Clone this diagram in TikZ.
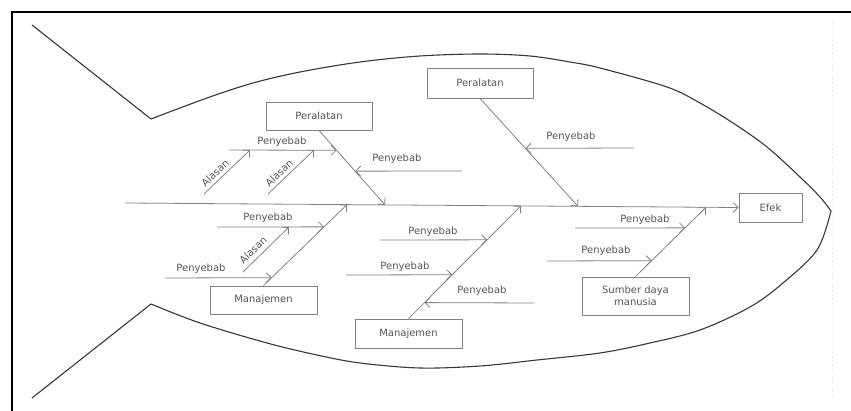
\documentclass[tikz,border=0pt]{standalone}
\usepackage{fontspec}
\setmainfont{DejaVu Sans}
\usetikzlibrary{arrows.meta,calc}
\definecolor{ln}{RGB}{130,130,130}
\definecolor{tx}{RGB}{85,85,85}
\definecolor{fishc}{RGB}{55,55,55}
\begin{document}
\begin{tikzpicture}[x=1pt,y=-1pt,
  box/.style={draw=ln, line width=0.8pt, minimum width=106pt, minimum height=28pt, inner sep=0pt, font=\fontsize{10}{12.5}\selectfont, text=tx, fill=white},
  lbl/.style={font=\fontsize{10}{12}\selectfont, text=tx, inner sep=1pt},
  bone/.style={draw=ln, line width=0.8pt, -{Straight Barb[length=5pt,width=10pt]}}]
\useasboundingbox (0,0) rectangle (851,411);
% frame
\draw[line width=2pt] (12,411) -- (12,12) -- (851,12);
\draw[black!10, dotted, line width=0.6pt] (832,22) -- (832,397);
% fish outline
\draw[fishc, line width=1.1pt, line join=round]
  (32,25) -- (151,119)
  -- plot[smooth, tension=0.55] coordinates {(151,119) (207,98) (253,83) (300,72) (360,62) (420,56) (480,54) (530,56) (570,62) (600,68) (667,87) (700,103) (733,123) (767,147) (800,177) (820,197) (831,211)}
  -- plot[smooth, tension=0.55] coordinates {(831,211) (817,250) (783,283) (750,307) (700,330) (650,343) (600,353) (537,360) (480,366) (420,368) (360,363) (317,355) (267,343) (200,323) (151,304)}
  -- (32,398);
% boxes
\node[box] (per1) at (319,116) {Peralatan};
\node[box, minimum height=30pt] (per2) at (480,83) {Peralatan};
\node[box, minimum width=107pt] (man1) at (263.5,300) {Manajemen};
\node[box, minimum width=107pt, minimum height=29pt] (man2) at (408.5,333.5) {Manajemen};
\node[box, minimum width=107pt, minimum height=38pt, align=center] (sdm) at (635.5,296) {Sumber daya\\manusia};
\node[box, minimum width=63pt, minimum height=29pt] (efek) at (770.5,207.5) {Efek};
% spine
\coordinate (tail) at (125,203);
\draw[bone] (tail) -- (efek.west);
\coordinate (j1) at (385,204.9);
\coordinate (j2) at (578,206.3);
\coordinate (jm1) at (347,204.6);
\coordinate (jm2) at (521,205.9);
\coordinate (js) at (706,207.3);
% main bones
\draw[bone] (per1.south) -- (j1);
\draw[bone] (per2.south) -- (j2);
\draw[bone] (man1.north) -- (jm1);
\draw[bone] (man2.north) -- (jm2);
\draw[bone] (sdm.north) -- (js);
% points on bones
\coordinate (b1a) at ($(per1.south)!0.267!(j1)$);
\coordinate (b1b) at ($(per1.south)!0.547!(j1)$);
\coordinate (b2a) at ($(per2.south)!0.463!(j2)$);
\coordinate (b3a) at ($(man1.north)!0.725!(jm1)$);
\coordinate (b3b) at ($(man1.north)!0.098!(jm1)$);
\coordinate (b4a) at ($(man2.north)!0.699!(jm2)$);
\coordinate (b4b) at ($(man2.north)!0.389!(jm2)$);
\coordinate (b4c) at ($(man2.north)!0.142!(jm2)$);
\coordinate (b5a) at ($(sdm.north)!0.703!(js)$);
\coordinate (b5b) at ($(sdm.north)!0.23!(js)$);
% free ends
\coordinate (c1a) at (229,150);
\coordinate (c1b) at (462,171);
\coordinate (c2a) at (634,148);
\coordinate (c3a) at (217,227);
\coordinate (c3b) at (165,278);
\coordinate (c4a) at (380,240);
\coordinate (c4b) at (346,275);
\coordinate (c4c) at (534,303);
\coordinate (c5a) at (575,228);
\coordinate (c5b) at (547,261);
% sub causes
\draw[bone] (c1a) -- (b1a);
\draw[bone] (c1b) -- (b1b);
\draw[bone] (c2a) -- (b2a);
\draw[bone] (c3a) -- (b3a);
\draw[bone] (c3b) -- (b3b);
\draw[bone] (c4a) -- (b4a);
\draw[bone] (c4b) -- (b4b);
\draw[bone] (c4c) -- (b4c);
\draw[bone] (c5a) -- (b5a);
\draw[bone] (c5b) -- (b5b);
% reasons (Alasan)
\coordinate (a1s) at (204,194); \coordinate (a1e) at (250,150);
\coordinate (a2s) at (268,194); \coordinate (a2e) at (314,150);
\coordinate (a3s) at (243,272); \coordinate (a3e) at (289,227);
\draw[bone] (a1s) -- (a1e);
\draw[bone] (a2s) -- (a2e);
\draw[bone] (a3s) -- (a3e);
% labels
\node[lbl] (l1a) at (282,142) {Penyebab};
\node[lbl, rotate=44] (al1) at (215,173) {Alasan};
\node[lbl, rotate=44] (al2) at (279,173) {Alasan};
\node[lbl] (l1b) at (397,159) {Penyebab};
\node[lbl] (l2a) at (571,137) {Penyebab};
\node[lbl] (l3a) at (268,218) {Penyebab};
\node[lbl, rotate=44] (al3) at (253,250) {Alasan};
\node[lbl] (l3b) at (201,269) {Penyebab};
\node[lbl] (l4a) at (433,232) {Penyebab};
\node[lbl] (l4b) at (405,267) {Penyebab};
\node[lbl] (l4c) at (482,291) {Penyebab};
\node[lbl] (l5a) at (645,220) {Penyebab};
\node[lbl] (l5b) at (606,251) {Penyebab};
\end{tikzpicture}
\end{document}
